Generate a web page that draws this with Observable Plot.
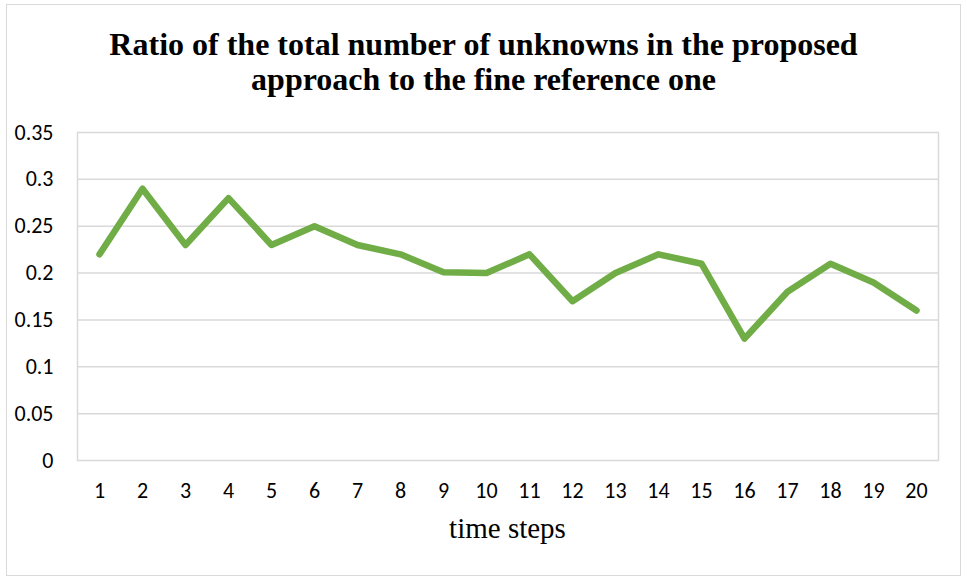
<!DOCTYPE html>
<html>
<head>
<meta charset="utf-8">
<script src="https://cdn.jsdelivr.net/npm/d3@7"></script>
<script src="https://cdn.jsdelivr.net/npm/@observablehq/plot@0.6"></script>
<style>
  html, body { margin: 0; padding: 0; background: #fff; }
  #frame { position: absolute; left: 6px; top: 4px; width: 955px; height: 572px; border: 1.5px solid #D9D9D9; box-sizing: border-box; }
  #title { position: absolute; left: 0; top: 27px; width: 967px; text-align: center; font-family: "Liberation Serif", "Times New Roman", serif; font-weight: bold; font-size: 32px; line-height: 35px; color: #000; }
  #chart { position: absolute; left: 0; top: 110px; }
  #xlabel { position: absolute; left: 77px; width: 861px; top: 512px; text-align: center; font-family: "Liberation Serif", "Times New Roman", serif; font-size: 29px; color: #000; }
</style>
</head>
<body>
<div id="frame"></div>
<div id="title">Ratio of the total number of unknowns in the proposed<br>approach to the fine reference one</div>
<div id="chart"></div>
<div id="xlabel">time steps</div>
<script>
const steps = [1,2,3,4,5,6,7,8,9,10,11,12,13,14,15,16,17,18,19,20];
const ratios = [0.22,0.29,0.23,0.28,0.23,0.25,0.23,0.22,0.201,0.20,0.22,0.17,0.20,0.22,0.21,0.13,0.18,0.21,0.19,0.16];
const yTicks = [0,0.05,0.1,0.15,0.2,0.25,0.3,0.35];
const yTickLabels = ["0","0.05","0.1","0.15","0.2","0.25","0.3","0.35"];

const data = steps.map((s, i) => ({step: s, ratio: ratios[i]}));

const chart = Plot.plot({
  width: 967,
  height: 460,
  marginLeft: 77,
  marginRight: 29,
  marginTop: 22,
  marginBottom: 110,
  style: {fontFamily: "Carlito, 'Open Sans', 'Liberation Sans', sans-serif", fontSize: "22px", color: "#000", background: "transparent"},
  x: {type: "point", domain: steps, padding: 0.5, align: 0.5, label: null},
  y: {domain: [0, 0.35], label: null},
  marks: [
    Plot.gridY(yTicks, {stroke: "#D9D9D9", strokeOpacity: 1, strokeWidth: 1.5}),
    Plot.frame({stroke: "#D9D9D9", strokeWidth: 1.5, anchor: "left"}),
    Plot.frame({stroke: "#D9D9D9", strokeWidth: 1.5, anchor: "right"}),
    Plot.axisY(yTicks, {tickSize: 0, tickPadding: 24, tickFormat: (d, i) => yTickLabels[i], fontSize: 22, fill: "#000"}),
    Plot.axisX(steps, {tickSize: 0, tickPadding: 22, fontSize: 22, fill: "#000"}),
    Plot.line(data, {x: "step", y: "ratio", stroke: "#70AD47", strokeWidth: 6.5, strokeLinejoin: "round", strokeLinecap: "round"})
  ]
});
document.getElementById("chart").appendChild(chart);
</script>
</body>
</html>
